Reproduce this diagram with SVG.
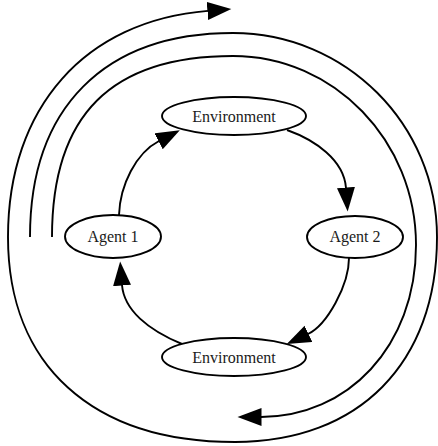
<svg xmlns="http://www.w3.org/2000/svg" width="438" height="446" viewBox="0 0 438 446">
  <style>
    .edge { fill: none; stroke: #000; stroke-width: 1.9; }
    .node ellipse { fill: #fff; stroke: #000; stroke-width: 1.9; }
    .node text { font-family: "Liberation Serif", "Times New Roman", serif; font-size: 16px; fill: #1a1a1a; text-anchor: middle; }
  </style>
  <defs>
    <marker id="ah" markerUnits="userSpaceOnUse" markerWidth="26" markerHeight="20" viewBox="0 0 26 20" refX="0.5" refY="9" orient="auto">
      <path d="M0,0 L24,9 L0,18 z" fill="#000"/>
    </marker>
  </defs>
  <rect width="438" height="446" fill="#fff"/>
  <g id="connectors">
    <path class="edge" marker-end="url(#ah)" d="M30,237 C30,108 104,33 233,33 C345.6,33 437,124.4 437,237 C437,363 359,442 235,442 C92,442 8,365 8,237 C8,107.3 84.9,20.8 207.9,10.9"/>
    <path class="edge" marker-end="url(#ah)" d="M52,237 C52,115 111,56 233,56 C334,56 416,141 416,245 C416,347 347,417 261,417"/>
    <path class="edge" marker-end="url(#ah)" d="M119,215 C120,185 136,153 159,141"/>
    <path class="edge" marker-end="url(#ah)" d="M287,130 C315,140 344,160 346,188"/>
    <path class="edge" marker-end="url(#ah)" d="M349,258 C349,285 327,325 308,334"/>
    <path class="edge" marker-end="url(#ah)" d="M182,344 C148,330 124,310 122,285"/>
  </g>
  <g id="env-top" class="node">
    <ellipse cx="234" cy="116" rx="72" ry="19"/>
    <text x="234" y="121.5">Environment</text>
  </g>
  <g id="agent1" class="node">
    <ellipse cx="113" cy="236.5" rx="48" ry="21.5"/>
    <text x="113" y="241.5">Agent 1</text>
  </g>
  <g id="agent2" class="node">
    <ellipse cx="355" cy="237" rx="48" ry="21"/>
    <text x="355" y="242">Agent 2</text>
  </g>
  <g id="env-bottom" class="node">
    <ellipse cx="234" cy="357" rx="72" ry="19"/>
    <text x="234" y="362.5">Environment</text>
  </g>
</svg>
